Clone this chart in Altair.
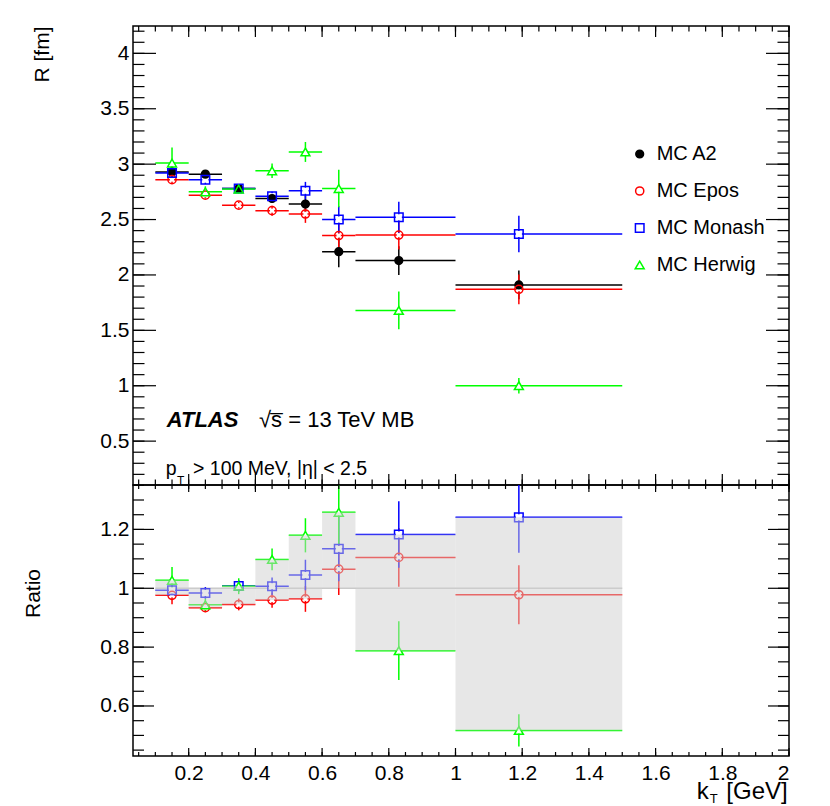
import altair as alt
import pandas as pd
import numpy as np

FONT = "Liberation Sans"

# ---------------- data ----------------
models = ["MC A2", "MC Epos", "MC Monash", "MC Herwig"]
model_colors = ["#000000", "#ff0000", "#0000ff", "#00ff00"]
model_shapes = ["circle", "circle", "square", "triangle-up"]
model_fills = ["#000000", "transparent", "transparent", "transparent"]
model_sizes = [60, 80, 64, 100]
knock_sizes = [1, 55, 45, 60]

bin_lo = [0.1, 0.2, 0.3, 0.4, 0.5, 0.6, 0.7, 1.0]
bin_hi = [0.2, 0.3, 0.4, 0.5, 0.6, 0.7, 1.0, 1.5]
kt_mean = [0.15, 0.25, 0.35, 0.45, 0.55, 0.65, 0.83, 1.19]

r_a2 = [2.93, 2.91, 2.78, 2.69, 2.64, 2.21, 2.13, 1.91]
r_a2_err = [0.04, 0.03, 0.03, 0.04, 0.08, 0.14, 0.13, 0.13]
r_epos = [2.86, 2.72, 2.63, 2.58, 2.55, 2.355, 2.36, 1.87]
r_epos_err = [0.04, 0.03, 0.03, 0.045, 0.08, 0.12, 0.13, 0.135]
r_monash = [2.92, 2.86, 2.78, 2.71, 2.76, 2.50, 2.52, 2.37]
r_monash_err = [0.04, 0.04, 0.03, 0.04, 0.08, 0.12, 0.14, 0.165]
r_herwig = [3.01, 2.75, 2.775, 2.94, 3.11, 2.78, 1.68, 1.00]
r_herwig_err = [0.14, 0.05, 0.03, 0.065, 0.09, 0.17, 0.17, 0.07]

rat_epos = [0.976, 0.934, 0.945, 0.96, 0.964, 1.065, 1.105, 0.978]
rat_epos_err = [0.03, 0.015, 0.02, 0.026, 0.044, 0.088, 0.10, 0.10]
rat_monash = [0.993, 0.984, 1.008, 1.007, 1.045, 1.134, 1.183, 1.241]
rat_monash_err = [0.023, 0.02, 0.02, 0.03, 0.052, 0.11, 0.113, 0.12]
rat_herwig = [1.027, 0.944, 1.007, 1.098, 1.18, 1.258, 0.788, 0.517]
rat_herwig_err = [0.045, 0.02, 0.027, 0.037, 0.058, 0.11, 0.10, 0.055]

band_lo = [0.976, 0.934, 0.945, 0.96, 0.964, 1.0, 0.788, 0.517]
band_hi = [1.027, 1.0, 1.008, 1.098, 1.18, 1.258, 1.183, 1.241]

x_major = [0.2, 0.4, 0.6, 0.8, 1.0, 1.2, 1.4, 1.6, 1.8, 2.0]
y_top_major = [0.5, 1.0, 1.5, 2.0, 2.5, 3.0, 3.5, 4.0]
y_bot_major = [0.6, 0.8, 1.0, 1.2]
x_minor = list(np.round(np.arange(0.05, 2.0001, 0.05), 2))
y_top_minor = list(np.round(np.arange(0.2, 4.2001, 0.1), 1))
y_bot_minor = list(np.round(np.arange(0.45, 1.3501, 0.05), 2))

# ---------------- tables ----------------
def long_table(series):
    rows = []
    for name, vals, errs in series:
        for i in range(len(kt_mean)):
            rows.append({"model": name, "x": kt_mean[i], "xlo": bin_lo[i], "xhi": bin_hi[i],
                         "y": vals[i], "ylo": vals[i] - errs[i], "yhi": vals[i] + errs[i]})
    return pd.DataFrame(rows)

top_df = long_table([("MC A2", r_a2, r_a2_err), ("MC Epos", r_epos, r_epos_err),
                     ("MC Monash", r_monash, r_monash_err), ("MC Herwig", r_herwig, r_herwig_err)])
rat_df = long_table([("MC Epos", rat_epos, rat_epos_err),
                     ("MC Monash", rat_monash, rat_monash_err), ("MC Herwig", rat_herwig, rat_herwig_err)])
band_df = pd.DataFrame({"xlo": bin_lo, "xhi": bin_hi, "lo": band_lo, "hi": band_hi})
unity_df = pd.DataFrame({"xlo": [0.1], "xhi": [1.5], "y": [1.0]})
one_row = pd.DataFrame({"a": [0]})

# ---------------- geometry ----------------
W = 656
H_TOP = 459
H_BOT = 271

xs = alt.Scale(domain=[0.033, 2.0], nice=False, zero=False)
ys_top = alt.Scale(domain=[0.104, 4.247], nice=False, zero=False)
ys_bot = alt.Scale(domain=[0.43, 1.351], nice=False, zero=False)

AX_Y_TOP = alt.Axis(values=y_top_major, format="~g", labelPadding=4, title="R [fm]",
                    titleAngle=270, titleAlign="right", titleBaseline="middle",
                    titleX=-91, titleY=0)
AX_Y_BOT = alt.Axis(values=y_bot_major, format="~g", labelPadding=4, title="Ratio",
                    titleAngle=270, titleAlign="center", titleBaseline="middle",
                    titleX=-100, titleY=108)
AX_X_BOT = alt.Axis(values=x_major, format="~g", labelPadding=6, title=None)

def X(field, panel):
    if panel == "top":
        return alt.X(field, scale=xs, axis=None)
    return alt.X(field, scale=xs, axis=AX_X_BOT)

def Y(field, panel):
    if panel == "top":
        return alt.Y(field, scale=ys_top, axis=AX_Y_TOP)
    return alt.Y(field, scale=ys_bot, axis=AX_Y_BOT)

LEG = alt.Legend(title=None, orient="none", legendX=496.7, legendY=118, labelFontSize=20,
                 labelFont=FONT, labelColor="black", rowPadding=17, labelOffset=7,
                 symbolStrokeWidth=1.5, padding=0)

def color_enc(legend):
    return alt.Color("model:N", scale=alt.Scale(domain=models, range=model_colors), legend=legend)

def point_encs(legend):
    return dict(
        color=color_enc(legend),
        shape=alt.Shape("model:N", scale=alt.Scale(domain=models, range=model_shapes), legend=legend),
        fill=alt.Fill("model:N", scale=alt.Scale(domain=models, range=model_fills), legend=legend),
        size=alt.Size("model:N", scale=alt.Scale(domain=models, range=model_sizes), legend=legend),
    )

def data_layers(df, panel, legend, clip):
    h = alt.Chart(df).mark_rule(strokeWidth=1.5, clip=clip).encode(
        x=X("xlo:Q", panel), x2=alt.X2("xhi"), y=Y("y:Q", panel), color=color_enc(None))
    v = alt.Chart(df).mark_rule(strokeWidth=1.5, clip=clip).encode(
        x=X("x:Q", panel), y=Y("ylo:Q", panel), y2=alt.Y2("yhi"), color=color_enc(None))
    # white knock-out so the error lines do not run through the hollow markers
    knock_df = df[df["model"] != "MC A2"]
    k = alt.Chart(knock_df).mark_point(filled=True, opacity=1, strokeWidth=0, clip=clip).encode(
        x=X("x:Q", panel), y=Y("y:Q", panel),
        shape=alt.Shape("model:N", scale=alt.Scale(domain=models, range=model_shapes), legend=None),
        size=alt.Size("model:N", scale=alt.Scale(domain=models, range=knock_sizes), legend=None),
        color=alt.value("white"))
    p = alt.Chart(df).mark_point(filled=False, strokeWidth=1.5, opacity=1, clip=clip).encode(
        x=X("x:Q", panel), y=Y("y:Q", panel), **point_encs(legend))
    return [h, v, k, p]

def tick_layers(panel, height, xmaj, xmin_, xmaj_b, xmin_b, ymaj_vals, ymin_vals, ymaj, ymin):
    layers = []
    for vals, L in ((ymaj_vals, ymaj), (ymin_vals, ymin)):
        d = pd.DataFrame({"v": vals})
        b = alt.Chart(d).mark_rule(color="black", strokeWidth=1.2)
        layers.append(b.encode(y=Y("v:Q", panel), x=alt.value(0), x2=alt.value(L)))
        layers.append(b.encode(y=Y("v:Q", panel), x=alt.value(W - L), x2=alt.value(W)))
    for vals, Lt, Lb in ((x_major, xmaj, xmaj_b), (x_minor, xmin_, xmin_b)):
        d = pd.DataFrame({"v": vals})
        b = alt.Chart(d).mark_rule(color="black", strokeWidth=1.2)
        layers.append(b.encode(x=X("v:Q", panel), y=alt.value(0), y2=alt.value(Lt)))
        layers.append(b.encode(x=X("v:Q", panel), y=alt.value(height - Lb), y2=alt.value(height)))
    return layers

def label(text, x, y, size, weight="normal", style="normal", align="left"):
    return alt.Chart(one_row).mark_text(text=text, font=FONT, fontSize=size, fontWeight=weight,
                                        fontStyle=style, align=align, baseline="alphabetic",
                                        color="black").encode(x=alt.value(x), y=alt.value(y))

INDEP = dict(color="independent", shape="independent", fill="independent", size="independent")

# ---------------- top panel ----------------
top_layers = data_layers(top_df, "top", LEG, False)
top_layers += tick_layers("top", H_TOP, 11, 5.5, 11, 5.5, y_top_major, y_top_minor, 23, 11.5)
top_layers += [
    label("ATLAS", 33.7, 400.7, 22, weight="bold", style="italic"),
    label("\u221as\u0305 = 13 TeV MB", 126, 400.7, 22),
    label("p", 32.7, 449, 19.5),
    label("T", 44, 459, 12),
    label("> 100 MeV, |\u03b7| < 2.5", 60, 449, 19.5),
]
top = alt.layer(*top_layers).properties(width=W, height=H_TOP).resolve_scale(**INDEP).resolve_legend(**INDEP)

# ---------------- ratio panel ----------------
unity = alt.Chart(unity_df).mark_rule(color="#c8c8c8", strokeWidth=1.5).encode(
    x=X("xlo:Q", "bot"), x2=alt.X2("xhi"), y=Y("y:Q", "bot"))
band = alt.Chart(band_df).mark_rect(color="#d0d0d0", opacity=0.5, clip=True).encode(
    x=X("xlo:Q", "bot"), x2=alt.X2("xhi"), y=Y("lo:Q", "bot"), y2=alt.Y2("hi"))
bot_layers = [unity] + data_layers(rat_df, "bot", None, True) + [band]
bot_layers += tick_layers("bot", H_BOT, 7, 4, 8, 4, y_bot_major, y_bot_minor, 21, 11)
bot_layers += [
    label("k", 575.7, 313.5, 24, align="right"),
    label("T", 576.7, 317.5, 13),
    label("[GeV]", 654.7, 313.5, 24, align="right"),
]
bottom = alt.layer(*bot_layers).properties(width=W, height=H_BOT).resolve_scale(**INDEP).resolve_legend(**INDEP)

chart = alt.vconcat(top, bottom, spacing=0, bounds="flush").resolve_scale(**INDEP).properties(
    padding={"left": 13, "top": 16, "right": 20, "bottom": 0}, background="white"
).configure_view(stroke="black", strokeWidth=1.5).configure_axis(
    labelFont=FONT, titleFont=FONT, labelFontSize=21, titleFontSize=21,
    titleFontWeight="normal", labelColor="black", titleColor="black",
    grid=False, domain=False, ticks=False, tickSize=0
)

chart.save("out.html", embed_options={"renderer": "svg", "actions": False})
